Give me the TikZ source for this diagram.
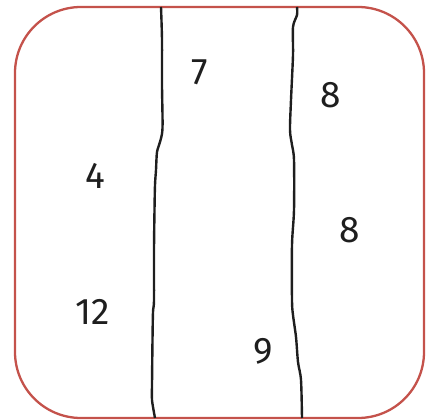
\documentclass[tikz,border=0pt]{standalone}
\usepackage{fontspec}
\setmainfont{Fira Sans}
\definecolor{framered}{RGB}{196,82,75}
\definecolor{ink}{RGB}{30,30,30}
\begin{document}
\begin{tikzpicture}[x=1pt,y=-1pt,
  frame/.style={draw=framered,line width=2.3pt,rounded corners=66pt},
  wavy/.style={draw=ink,line width=2.4pt},
  num/.style={font=\fontsize{37}{40}\selectfont,text=ink,inner sep=0pt}]
\useasboundingbox (0,0) rectangle (426,420);
\draw[frame] (15,7) rectangle (424,418);
\draw[wavy] plot[smooth,tension=0.5] coordinates {(161,7) (162,40) (162,85) (162.5,128) (160,142) (157,152) (156,170) (155,185) (154.5,210) (154,250) (154,300) (153,312) (152.5,340) (152,385) (152,400) (155,418)};
\draw[wavy] plot[smooth,tension=0.5] coordinates {(297,7) (297,15) (293,27) (293,55) (291,100) (290,130) (292,145) (294,160) (294,210) (292,245) (292,300) (293,315) (296,337) (298,362) (301,380) (302,418)};
\node[num] (n7) at (200,72) {7};
\node[num] (n8a) at (331,95) {8};
\node[num] (n4) at (95.5,175.5) {4};
\node[num] (n8b) at (349.5,230) {8};
\node[num] (n12) at (92.5,312) {12};
\node[num] (n9) at (263,351) {9};
\end{tikzpicture}
\end{document}
